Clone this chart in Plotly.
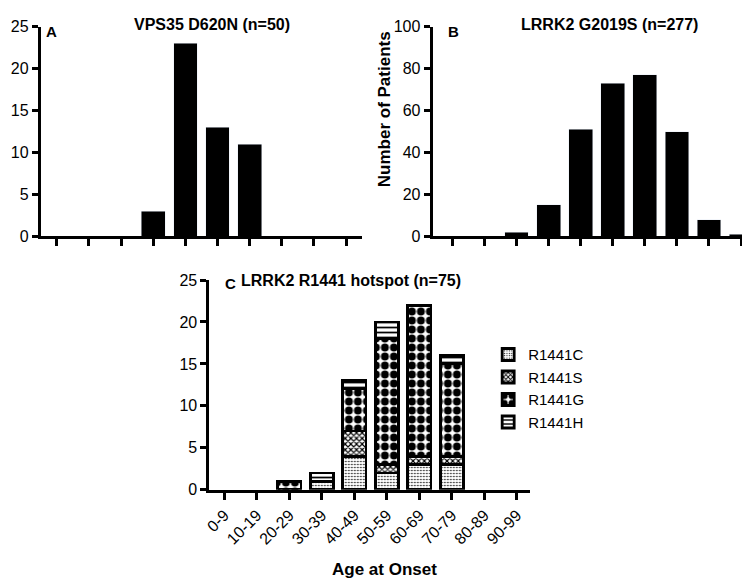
import plotly.graph_objects as go

W, H = 750, 580

ages = ["0-9", "10-19", "20-29", "30-39", "40-49", "50-59", "60-69", "70-79", "80-89", "90-99"]

vps35 = [0, 0, 0, 3, 23, 13, 11, 0, 0, 0]
g2019s = [0, 0, 2, 15, 51, 73, 77, 50, 8, 1]

r1441c = [0, 0, 0, 1, 4, 2, 3, 3, 0, 0]
r1441s = [0, 0, 0, 0, 3, 1, 1, 1, 0, 0]
r1441g = [0, 0, 1, 0, 5, 15, 18, 11, 0, 0]
r1441h = [0, 0, 0, 1, 1, 2, 0, 1, 0, 0]

FONT = "Liberation Sans, Arial, sans-serif"


def px(x):
    return x / W


def py(y):
    return 1 - y / H


def skip_zero(vals):
    # empty categories should draw no outlined stub
    return [v if v else None for v in vals]


fig = go.Figure()

fig.add_trace(go.Bar(x=ages, y=vps35, xaxis="x", yaxis="y", marker_color="black",
                     width=0.74, showlegend=False))
fig.add_trace(go.Bar(x=ages, y=g2019s, xaxis="x2", yaxis="y2", marker_color="black",
                     width=0.74, showlegend=False))

patterns = [
    ("R1441C", r1441c, dict(shape=".", size=3, solidity=0.22)),
    ("R1441S", r1441s, dict(shape="x", size=4, solidity=0.5)),
    ("R1441G", r1441g, dict(shape=".", size=9, solidity=0.6)),
    ("R1441H", r1441h, dict(shape="-", size=5, solidity=0.35)),
]
for name, vals, pat in patterns:
    fig.add_trace(go.Bar(
        x=ages, y=skip_zero(vals), xaxis="x3", yaxis="y3", name=name, width=0.72,
        marker=dict(color="white", line=dict(color="black", width=2.8),
                    pattern=dict(fgcolor="black", bgcolor="white", fillmode="replace", **pat)),
    ))

axis_common = dict(showline=True, linecolor="black", linewidth=3, ticks="outside",
                   tickcolor="black", tickwidth=2.5, ticklen=7, showgrid=False,
                   zeroline=False, tickfont=dict(size=16, color="black", family=FONT))

fig.update_layout(
    width=W, height=H, margin=dict(l=0, r=0, t=0, b=0),
    paper_bgcolor="white", plot_bgcolor="white",
    barmode="stack", bargap=0.26,
    font=dict(family=FONT, color="black"),
    xaxis=dict(axis_common, domain=[px(27), px(351)], range=[-0.5, 9.5],
               showticklabels=False, anchor="y"),
    yaxis=dict(axis_common, domain=[py(227), py(11)], range=[0, 25], dtick=5,
               anchor="x", ticklen=6),
    xaxis2=dict(axis_common, domain=[px(422), px(750)], range=[-0.62, 9.53],
                showticklabels=False, anchor="y2"),
    yaxis2=dict(axis_common, domain=[py(227), py(11)], range=[0, 100], dtick=20,
                anchor="x2", ticklen=6),
    xaxis3=dict(axis_common, domain=[px(197), px(520)], range=[-0.46, 9.4],
                tickangle=-45, anchor="y3", tickfont=dict(size=16, color="black", family=FONT)),
    yaxis3=dict(axis_common, domain=[py(488), py(272)], range=[0, 25], dtick=5,
                anchor="x3", ticklen=6),
    legend=dict(x=px(478), y=py(332), xanchor="left", yanchor="top",
                traceorder="normal", font=dict(size=15, family=FONT),
                itemwidth=30, tracegroupgap=0, bgcolor="rgba(0,0,0,0)"),
)

notes = [
    ("<b>VPS35 D620N (n=50)</b>", 200, 9, 16, 0),
    ("<b>LRRK2 G2019S (n=277)</b>", 600, 9, 16, 0),
    ("<b>LRRK2 R1441 hotspot (n=75)</b>", 340, 273, 16, 0),
    ("<b>A</b>", 38, 16, 15, 0),
    ("<b>B</b>", 443, 16, 15, 0),
    ("<b>C</b>", 218, 276, 15, 0),
    ("<b>Age at Onset</b>", 373, 570, 17, 0),
    ("<b>Number of Patients</b>", 373, 96, 17, -90),
]
for text, x, y, size, angle in notes:
    fig.add_annotation(text=text, x=px(x), y=py(y), xref="paper", yref="paper",
                       xanchor="center", yanchor="middle",
                       showarrow=False, textangle=angle,
                       font=dict(size=size, family=FONT, color="black"))

fig.write_html("out.html")
